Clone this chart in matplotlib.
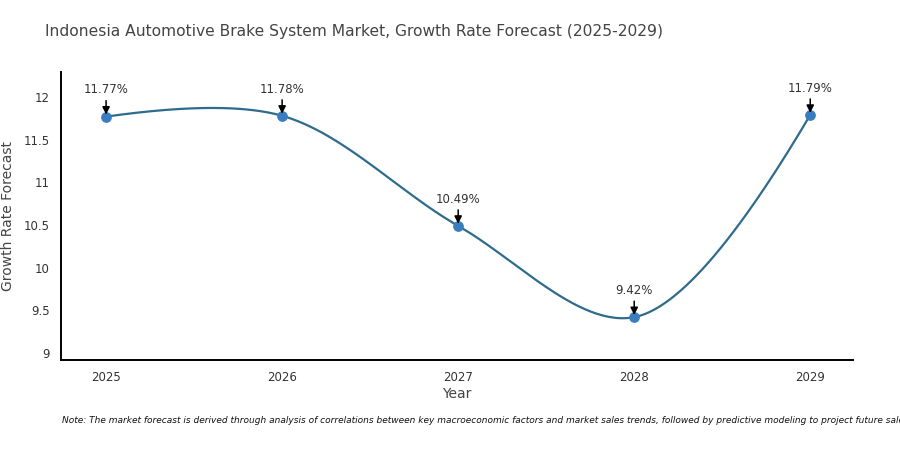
import numpy as np
import matplotlib.pyplot as plt

years = [2025, 2026, 2027, 2028, 2029]
growth = [11.77, 11.78, 10.49, 9.42, 11.79]
labels = ["11.77%", "11.78%", "10.49%", "9.42%", "11.79%"]

plt.rcParams['font.family'] = ['DejaVu Sans']


def make_tangent(p0, p1, p2, smooth=1.0):
    # plotly style catmull-rom tangent
    d1 = p0 - p1
    d2 = p2 - p1
    d1a = np.hypot(*d1) ** 0.5
    d2a = np.hypot(*d2) ** 0.5
    num = (d2a * d2a * d1 - d1a * d1a * d2) * smooth
    den1 = 3 * d2a * (d1a + d2a)
    den2 = 3 * d1a * (d1a + d2a)
    return p1 + num / den1, p1 - num / den2


def spline_pixels(pts, n=60):
    tang = [make_tangent(pts[i - 1], pts[i], pts[i + 1]) for i in range(1, len(pts) - 1)]
    t = np.linspace(0, 1, n)[:, None]
    out = []
    # first quadratic
    a, c, b = pts[0], tang[0][0], pts[1]
    out.append((1 - t) ** 2 * a + 2 * (1 - t) * t * c + t ** 2 * b)
    for i in range(2, len(pts) - 1):
        a, c1, c2, b = pts[i - 1], tang[i - 2][1], tang[i - 1][0], pts[i]
        out.append((1 - t) ** 3 * a + 3 * (1 - t) ** 2 * t * c1 + 3 * (1 - t) * t ** 2 * c2 + t ** 3 * b)
    a, c, b = pts[-2], tang[-1][1], pts[-1]
    out.append((1 - t) ** 2 * a + 2 * (1 - t) * t * c + t ** 2 * b)
    return np.vstack(out)


fig = plt.figure(figsize=(9, 4.5), dpi=100)
ax = fig.add_axes([0.0678, 0.2, 0.8802, 0.64])
ax.set_xlim(2024.744, 2029.244)
ax.set_ylim(8.918, 12.293)

pix = ax.transData.transform(np.column_stack([years, growth]))
curve = ax.transData.inverted().transform(spline_pixels(pix))
ax.plot(curve[:, 0], curve[:, 1], color='#2e6b8c', lw=1.6, zorder=2)
ax.scatter(years, growth, s=45, color='#3a7dbf', zorder=3)

for x, y, lab in zip(years, growth, labels):
    ax.annotate(lab, xy=(x, y), xytext=(0, 14.5), textcoords='offset points',
                ha='center', va='bottom', fontsize=8.5, color='#333333',
                arrowprops=dict(arrowstyle='-|>', color='black', lw=1.1,
                                mutation_scale=11, shrinkA=1, shrinkB=1.5))

ax.set_xticks(years)
ax.set_yticks([9, 9.5, 10, 10.5, 11, 11.5, 12])
ax.set_yticklabels(['9', '9.5', '10', '10.5', '11', '11.5', '12'])
ax.tick_params(length=0, labelsize=8.5, colors='#333333', pad=8)
for s in ['top', 'right']:
    ax.spines[s].set_visible(False)
for s in ['left', 'bottom']:
    ax.spines[s].set_linewidth(1.4)
    ax.spines[s].set_color('black')

ax.set_xlabel('Year', fontsize=10, color='#444444', labelpad=2)
ax.set_ylabel('Growth Rate Forecast', fontsize=10, color='#444444', labelpad=6)

fig.text(0.05, 0.93, 'Indonesia Automotive Brake System Market, Growth Rate Forecast (2025-2029)',
         fontsize=11.2, color='#444444', va='center')
fig.text(0.069, 0.066, 'Note: The market forecast is derived through analysis of correlations between key macroeconomic factors '
         'and market sales trends, followed by predictive modeling to project future sales',
         fontsize=6.5, style='italic', color='#111111', va='center')

fig.savefig('out.png', dpi=100)
